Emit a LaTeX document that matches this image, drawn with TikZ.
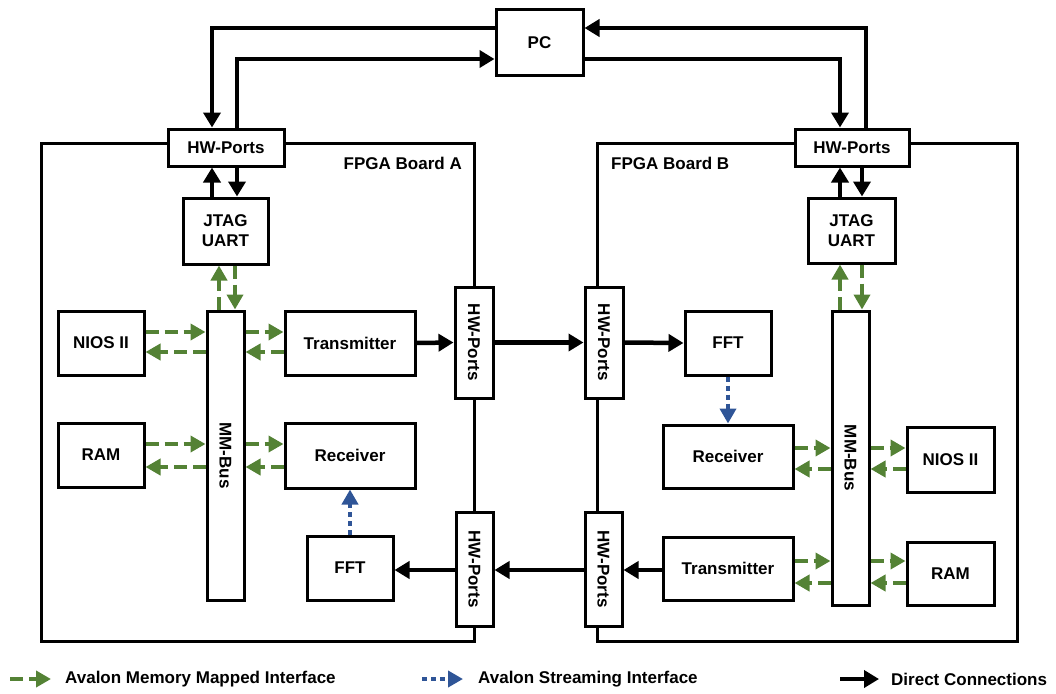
\documentclass[tikz,border=0pt]{standalone}
\usepackage{fontspec}
\setmainfont{Liberation Sans}
\usetikzlibrary{arrows.meta,calc}

\definecolor{mmgreen}{RGB}{84,130,53}
\definecolor{stblue}{RGB}{47,85,151}

\tikzset{
  box/.style={draw=black, line width=3pt, fill=white, inner sep=2pt,
              font=\fontsize{17}{20}\selectfont\bfseries, align=center},
  board/.style={draw=black, line width=3pt},
  lbl/.style={font=\fontsize{17}{20}\selectfont\bfseries, inner sep=0pt},
  conn/.style={draw=black, line width=4.5pt,
               -{Triangle[length=15pt,width=17pt]}},
  mm/.style={draw=mmgreen, line width=4.5pt, dash pattern=on 13pt off 6pt,
             -{Triangle[length=15pt,width=16pt]}},
  st/.style={draw=stblue, line width=4.5pt, dash pattern=on 5pt off 4pt,
             -{Triangle[length=15pt,width=16pt]}},
}

\begin{document}
\begin{tikzpicture}[x=1pt,y=-1pt]
\useasboundingbox (0,0) rectangle (1056,693);

% the two boards
\draw[board] (41,143) rectangle (474,641);
\draw[board] (597,143) rectangle (1017,641);
\node[lbl, anchor=east] (labA) at (462,163) {FPGA Board A};
\node[lbl, anchor=west] (labB) at (611,163) {FPGA Board B};

% host
\node[box, minimum width=87, minimum height=65] (pc) at (539.5,42.5) {PC};

% board A blocks
\node[box, minimum width=116, minimum height=37] (hwAt) at (226,147.5) {HW-Ports};
\node[box, minimum width=85, minimum height=66] (jtagA) at (225.5,231) {JTAG\\UART};
\node[box, minimum width=37, minimum height=289] (busA) at (225.5,455.5) {\rotatebox{-90}{MM-Bus}};
\node[box, minimum width=86, minimum height=64] (niosA) at (101,343) {NIOS II};
\node[box, minimum width=86, minimum height=64] (ramA) at (101,455) {RAM};
\node[box, minimum width=130, minimum height=64] (txA) at (350,343) {Transmitter};
\node[box, minimum width=130, minimum height=65] (rxA) at (350,455.5) {Receiver};
\node[box, minimum width=86, minimum height=64] (fftA) at (350,568) {FFT};
\node[box, minimum width=38, minimum height=111] (hwA1) at (474,342.5) {\rotatebox{-90}{HW-Ports}};
\node[box, minimum width=37, minimum height=114] (hwA2) at (474.5,569) {\rotatebox{-90}{HW-Ports}};

% board B blocks
\node[box, minimum width=114, minimum height=37] (hwBt) at (852,147.5) {HW-Ports};
\node[box, minimum width=87, minimum height=65] (jtagB) at (851.5,230.5) {JTAG\\UART};
\node[box, minimum width=37, minimum height=294] (busB) at (850.5,458) {\rotatebox{-90}{MM-Bus}};
\node[box, minimum width=86, minimum height=64] (fftB) at (728,343) {FFT};
\node[box, minimum width=130, minimum height=63] (rxB) at (728,456.5) {Receiver};
\node[box, minimum width=130, minimum height=63] (txB) at (728,568.5) {Transmitter};
\node[box, minimum width=87, minimum height=65] (niosB) at (950.5,459.5) {NIOS II};
\node[box, minimum width=87, minimum height=63] (ramB) at (950.5,573.5) {RAM};
\node[box, minimum width=38, minimum height=111] (hwB1) at (604,342.5) {\rotatebox{-90}{HW-Ports}};
\node[box, minimum width=37, minimum height=114] (hwB2) at (603.5,569) {\rotatebox{-90}{HW-Ports}};

% host links
\draw[conn] ([yshift=14.5pt]pc.west) -| ([xshift=-14pt]hwAt.north);
\draw[conn] ([xshift=11pt]hwAt.north) |- ([yshift=-16.5pt]pc.west);
\draw[conn] ([yshift=-16.5pt]pc.east) -| ([xshift=-12pt]hwBt.north);
\draw[conn] ([xshift=14pt]hwBt.north) |- ([yshift=14.5pt]pc.east);

% JTAG UART to host ports
\draw[conn] ([xshift=-13.5pt]jtagA.north) -- ([xshift=-13.5pt]jtagA.north |- hwAt.south);
\draw[conn] ([xshift=11.5pt]jtagA.north |- hwAt.south) -- ([xshift=11.5pt]jtagA.north);
\draw[conn] ([xshift=-11.5pt]jtagB.north) -- ([xshift=-11.5pt]jtagB.north |- hwBt.south);
\draw[conn] ([xshift=10.5pt]jtagB.north |- hwBt.south) -- ([xshift=10.5pt]jtagB.north);

% board-to-board links
\draw[conn] (txA.east) -- (hwA1.west);
\draw[conn] (hwA1.east) -- (hwB1.west);
\draw[conn] (hwB1.east) -- (fftB.west);
\draw[conn] ([yshift=-1.5pt]txB.west) -- ([yshift=-1.5pt]txB.west -| hwB2.east);
\draw[conn] ([yshift=-1.5pt]txB.west -| hwB2.west) -- ([yshift=-1.5pt]txB.west -| hwA2.east);
\draw[conn] ([yshift=-1.5pt]txB.west -| hwA2.west) -- ([yshift=-1.5pt]txB.west -| fftA.east);

% streaming links
\draw[st] (fftA.north) -- (rxA.south);
\draw[st] (fftB.south) -- (rxB.north);

% memory-mapped links, board A
\draw[mm] ([yshift=11pt]niosA.east) -- ([yshift=11pt]niosA.east -| busA.west);
\draw[mm] ([yshift=-9pt]niosA.east -| busA.west) -- ([yshift=-9pt]niosA.east);
\draw[mm] ([yshift=11pt]txA.west -| busA.east) -- ([yshift=11pt]txA.west);
\draw[mm] ([yshift=-9pt]txA.west) -- ([yshift=-9pt]txA.west -| busA.east);
\draw[mm] ([yshift=11pt]ramA.east) -- ([yshift=11pt]ramA.east -| busA.west);
\draw[mm] ([yshift=-12pt]ramA.east -| busA.west) -- ([yshift=-12pt]ramA.east);
\draw[mm] ([yshift=11.5pt]rxA.west -| busA.east) -- ([yshift=11.5pt]rxA.west);
\draw[mm] ([yshift=-11.5pt]rxA.west) -- ([yshift=-11.5pt]rxA.west -| busA.east);
\draw[mm] ([xshift=-6.5pt]busA.north) -- ([xshift=-6.5pt]busA.north |- jtagA.south);
\draw[mm] ([xshift=9.5pt]busA.north |- jtagA.south) -- ([xshift=9.5pt]busA.north);

% memory-mapped links, board B
\draw[mm] ([yshift=8.5pt]rxB.east) -- ([yshift=8.5pt]rxB.east -| busB.west);
\draw[mm] ([yshift=-12.5pt]rxB.east -| busB.west) -- ([yshift=-12.5pt]rxB.east);
\draw[mm] ([yshift=8.5pt]rxB.east -| busB.east) -- ([yshift=8.5pt]rxB.east -| niosB.west);
\draw[mm] ([yshift=-12.5pt]rxB.east -| niosB.west) -- ([yshift=-12.5pt]rxB.east -| busB.east);
\draw[mm] ([yshift=7.5pt]txB.east) -- ([yshift=7.5pt]txB.east -| busB.west);
\draw[mm] ([yshift=-14.5pt]txB.east -| busB.west) -- ([yshift=-14.5pt]txB.east);
\draw[mm] ([yshift=7.5pt]txB.east -| busB.east) -- ([yshift=7.5pt]txB.east -| ramB.west);
\draw[mm] ([yshift=-14.5pt]txB.east -| ramB.west) -- ([yshift=-14.5pt]txB.east -| busB.east);
\draw[mm] ([xshift=-10.5pt]busB.north) -- ([xshift=-10.5pt]busB.north |- jtagB.south);
\draw[mm] ([xshift=11.5pt]busB.north |- jtagB.south) -- ([xshift=11.5pt]busB.north);

% legend
\coordinate (lgA0) at (10,679);  \coordinate (lgA1) at (51,679);
\coordinate (lgB0) at (422,679); \coordinate (lgB1) at (463,679);
\coordinate (lgC0) at (840,679); \coordinate (lgC1) at (879,679);
\draw[mm] (lgA0) -- (lgA1);
\draw[st] (lgB0) -- (lgB1);
\draw[conn] (lgC0) -- (lgC1);
\node[lbl, anchor=west] (lgAt) at (65,679) {Avalon Memory Mapped Interface};
\node[lbl, anchor=west] (lgBt) at (478,679) {Avalon Streaming Interface};
\node[lbl, anchor=west] (lgCt) at (891,679) {Direct Connections};
\end{tikzpicture}
\end{document}
